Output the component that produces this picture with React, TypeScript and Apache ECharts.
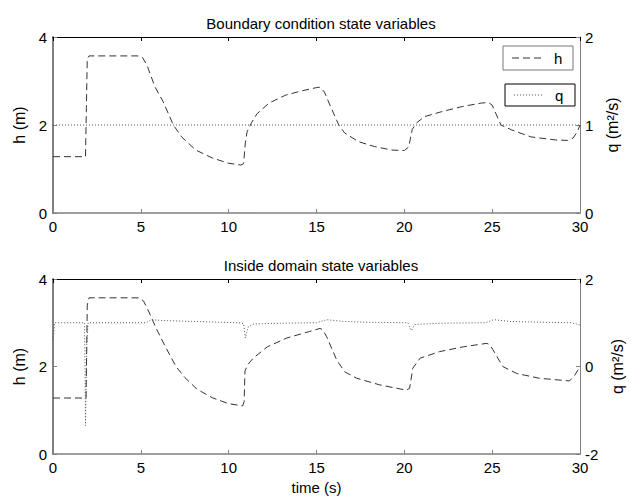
import React, { useEffect, useRef } from "react";
import * as echarts from "echarts";

// Boundary condition (top panel)
const tBoundaryH = [0, 1.85, 1.9, 1.95, 2.05, 4.9, 5.1, 5.35, 5.8, 6.27, 6.85, 7.32, 8.13, 9.07, 10.0, 10.7, 10.85, 10.95, 11.05, 11.3, 11.6, 12.3, 13.25, 14.2, 15.0, 15.2, 15.45, 15.8, 16.27, 16.6, 17.4, 18.3, 19.3, 20.0, 20.25, 20.45, 20.7, 21.15, 22.1, 23.3, 24.4, 24.8, 25.0, 25.2, 25.5, 26.1, 27.2, 28.6, 29.3, 29.6, 29.85, 30];
const hBoundary = [1.28, 1.28, 2.4, 3.5, 3.57, 3.57, 3.53, 3.36, 2.87, 2.53, 2.0, 1.73, 1.43, 1.25, 1.13, 1.09, 1.12, 1.6, 1.85, 2.05, 2.25, 2.5, 2.68, 2.78, 2.85, 2.86, 2.75, 2.42, 2.0, 1.82, 1.62, 1.51, 1.43, 1.42, 1.5, 1.9, 2.05, 2.19, 2.3, 2.42, 2.5, 2.51, 2.45, 2.27, 2.0, 1.89, 1.73, 1.66, 1.65, 1.7, 1.85, 2.0];
const tBoundaryQ = [0, 30];
const qBoundary = [1, 1];

// Inside domain (bottom panel)
const tInsideH = [0, 1.88, 1.92, 1.95, 2.05, 4.9, 5.15, 5.4, 5.9, 6.4, 7.0, 7.5, 8.2, 9.1, 10.0, 10.8, 10.88, 10.93, 11.1, 11.4, 12.2, 13.3, 14.6, 15.2, 15.35, 15.58, 16.15, 16.6, 17.3, 18.6, 20.1, 20.3, 20.48, 20.9, 22.0, 23.36, 24.7, 24.85, 25.05, 25.6, 26.4, 27.7, 29.4, 29.7, 30];
const hInside = [1.28, 1.28, 2.4, 3.4, 3.57, 3.57, 3.5, 3.3, 2.85, 2.45, 2.0, 1.75, 1.48, 1.28, 1.15, 1.1, 1.2, 1.9, 2.05, 2.19, 2.45, 2.65, 2.8, 2.87, 2.84, 2.68, 2.15, 1.88, 1.73, 1.58, 1.46, 1.5, 1.96, 2.19, 2.34, 2.45, 2.53, 2.5, 2.38, 2.0, 1.84, 1.73, 1.67, 1.8, 2.0];
const tInsideQ = [0, 0.1, 1.8, 1.85, 1.92, 2.0, 5.3, 5.6, 6.3, 8.0, 10.5, 10.85, 10.95, 11.1, 11.4, 13.0, 15.0, 15.6, 16.5, 18.0, 20.2, 20.4, 20.6, 22.0, 24.6, 25.1, 26.0, 28.0, 29.5, 30];
const qInside = [0.6, 1.0, 1.0, -1.35, 0.5, 1.0, 1.0, 1.07, 1.05, 1.03, 1.0, 0.98, 0.65, 0.9, 0.97, 0.99, 1.0, 1.07, 1.03, 1.01, 1.0, 0.82, 0.96, 0.99, 1.0, 1.07, 1.03, 1.01, 1.0, 0.95];

const xTicks = { min: 0, max: 30, interval: 5 };
const titles = ["Boundary condition state variables", "Inside domain state variables"];

const zip = (a: number[], b: number[]) => a.map((v, i) => [v, b[i]]);

const FONT = "Liberation Sans, Arial, sans-serif";
const GRAY = "#808080";

export default function App() {
  const ref = useRef<HTMLDivElement>(null);
  useEffect(() => {
    const chart = echarts.init(ref.current!, null, { renderer: "svg" });
    const label = { fontSize: 15, color: "#000", fontFamily: FONT };
    const xBottom = (grid: number, name?: string) => ({
      type: "value",
      gridIndex: grid,
      position: "bottom",
      ...xTicks,
      name: name || "",
      nameLocation: "middle",
      nameGap: 26,
      nameTextStyle: label,
      axisLine: { show: true, onZero: false, lineStyle: { color: GRAY, width: 1.5 } },
      axisTick: { show: true, inside: true, length: 4, lineStyle: { color: GRAY } },
      axisLabel: { ...label, margin: 6 },
      splitLine: { show: false },
    });
    const xTop = (grid: number) => ({
      type: "value",
      gridIndex: grid,
      position: "top",
      ...xTicks,
      axisLine: { show: true, onZero: false, lineStyle: { color: "#000", width: 1 } },
      axisTick: { show: true, inside: true, length: 4, lineStyle: { color: "#000" } },
      axisLabel: { show: false },
      splitLine: { show: false },
    });
    const yLeft = (grid: number) => ({
      type: "value",
      gridIndex: grid,
      position: "left",
      min: 0,
      max: 4,
      interval: 2,
      name: "h (m)",
      nameLocation: "middle",
      nameGap: 24,
      nameRotate: 90,
      nameTextStyle: { ...label, fontSize: 16 },
      axisLine: { show: true, onZero: false, lineStyle: { color: GRAY, width: 2 } },
      axisTick: { show: true, inside: true, length: 4, lineStyle: { color: GRAY } },
      axisLabel: { ...label, margin: 6 },
      splitLine: { show: false },
    });
    const yRight = (grid: number, min: number, max: number, interval: number) => ({
      type: "value",
      gridIndex: grid,
      position: "right",
      min,
      max,
      interval,
      name: "q (m²/s)",
      nameLocation: "middle",
      nameGap: 24,
      nameRotate: 90,
      nameTextStyle: { ...label, fontSize: 16 },
      axisLine: { show: true, onZero: false, lineStyle: { color: GRAY, width: 1 } },
      axisTick: { show: true, inside: true, length: 4, lineStyle: { color: GRAY } },
      axisLabel: { ...label, margin: 5 },
      splitLine: { show: false },
    });
    const hStyle = { type: [7, 4], color: "#333", width: 1 };
    const qStyle = { type: [1, 2], color: "#555", width: 1 };
    const option: any = {
      animation: false,
      backgroundColor: "#fff",
      title: [
        { text: titles[0], left: 316, top: 11, textAlign: "center", textStyle: { ...label, fontWeight: "normal" } },
        { text: titles[1], left: 316, top: 253, textAlign: "center", textStyle: { ...label, fontWeight: "normal" } },
      ],
      grid: [
        { left: 53, right: 61, top: 37, height: 176 },
        { left: 53, right: 61, top: 279, height: 175 },
      ],
      xAxis: [xBottom(0), xTop(0), xBottom(1, "time (s)"), xTop(1)],
      yAxis: [yLeft(0), yRight(0, 0, 2, 1), yLeft(1), yRight(1, -2, 2, 2)],
      series: [
        { type: "line", xAxisIndex: 0, yAxisIndex: 0, data: zip(tBoundaryH, hBoundary), showSymbol: false, lineStyle: hStyle },
        { type: "line", xAxisIndex: 0, yAxisIndex: 1, data: zip(tBoundaryQ, qBoundary), showSymbol: false, lineStyle: qStyle },
        { type: "line", xAxisIndex: 2, yAxisIndex: 2, data: zip(tInsideH, hInside), showSymbol: false, lineStyle: hStyle },
        { type: "line", xAxisIndex: 2, yAxisIndex: 3, data: zip(tInsideQ, qInside), showSymbol: false, lineStyle: qStyle },
      ],
      graphic: [
        { type: "rect", shape: { x: 503, y: 46, width: 70, height: 24 }, style: { fill: "#fff", stroke: "#777", lineWidth: 1 } },
        { type: "line", shape: { x1: 512, y1: 58, x2: 541, y2: 58 }, style: { stroke: "#333", lineWidth: 1, lineDash: [7, 4] } },
        { type: "text", x: 554, y: 58, style: { text: "h", fontSize: 15, fontFamily: FONT, fill: "#000", verticalAlign: "middle" } },
        { type: "rect", shape: { x: 505, y: 84, width: 70, height: 22 }, style: { fill: "#fff", stroke: "#000", lineWidth: 1 } },
        { type: "line", shape: { x1: 514, y1: 95, x2: 543, y2: 95 }, style: { stroke: "#555", lineWidth: 1, lineDash: [1, 2] } },
        { type: "text", x: 555, y: 95, style: { text: "q", fontSize: 15, fontFamily: FONT, fill: "#000", verticalAlign: "middle" } },
      ],
    };
    chart.setOption(option);
    return () => chart.dispose();
  }, []);
  return <div ref={ref} style={{ position: "fixed", left: 0, top: 0, width: 641, height: 497 }} />;
}
